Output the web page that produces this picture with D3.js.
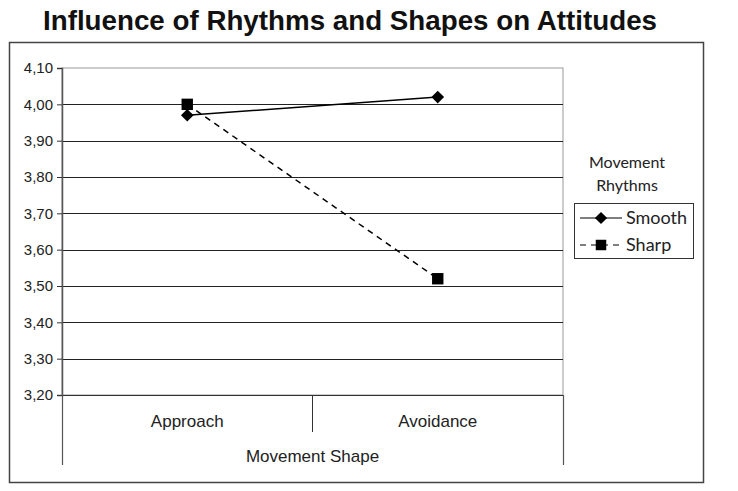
<!DOCTYPE html>
<html>
<head>
<meta charset="utf-8">
<script src="https://cdn.jsdelivr.net/npm/d3@7"></script>
<style>
  body { margin: 0; background: #fff; }
  svg { display: block; font-family: "Liberation Sans", Arial, sans-serif; }
</style>
</head>
<body>
<div id="chart"></div>
<script>
// Data
const categories = ['Approach', 'Avoidance'];
const smoothValues = [3.97, 4.02];
const sharpValues = [4.00, 3.52];
const yTicks = [3.2, 3.3, 3.4, 3.5, 3.6, 3.7, 3.8, 3.9, 4.0, 4.1];
const seriesNames = ['Smooth', 'Sharp'];

const width = 738, height = 491;
const plot = { left: 62, right: 563, top: 68, bottom: 395 };

const svg = d3.select('#chart')
    .append('svg')
    .attr('width', width)
    .attr('height', height);

// Title
svg.append('text')
    .attr('x', 350)
    .attr('y', 30)
    .attr('text-anchor', 'middle')
    .attr('font-size', 27)
    .attr('font-weight', 'bold')
    .attr('fill', '#111')
    .attr('textLength', 614)
    .attr('lengthAdjust', 'spacingAndGlyphs')
    .text('Influence of Rhythms and Shapes on Attitudes');

// Outer frame
svg.append('rect')
    .attr('x', 9.5).attr('y', 42.5)
    .attr('width', 694).attr('height', 440)
    .attr('fill', 'none')
    .attr('stroke', '#444')
    .attr('stroke-width', 1.5);

// Scales
const y = d3.scaleLinear().domain([3.2, 4.1]).range([plot.bottom, plot.top]);
const x = d3.scaleBand().domain(categories).range([plot.left, plot.right]);

// Plot area border (light)
svg.append('rect')
    .attr('x', plot.left).attr('y', plot.top)
    .attr('width', plot.right - plot.left).attr('height', plot.bottom - plot.top)
    .attr('fill', 'none')
    .attr('stroke', '#999')
    .attr('stroke-width', 1);

// Gridlines
svg.append('g')
    .selectAll('line')
    .data(yTicks.filter(t => t > 3.2 && t < 4.1))
    .enter()
    .append('line')
    .attr('x1', plot.left).attr('x2', plot.right)
    .attr('y1', d => Math.round(y(d)) + 0.5)
    .attr('y2', d => Math.round(y(d)) + 0.5)
    .attr('stroke', '#222')
    .attr('stroke-width', 1.2);

// Y axis
const yAxis = svg.append('g')
    .attr('transform', `translate(${plot.left},0)`)
    .call(d3.axisLeft(y)
        .tickValues(yTicks)
        .tickSize(5)
        .tickFormat(d => d3.format('.2f')(d).replace('.', ',')));
yAxis.attr('font-size', null).attr('font-family', null);
yAxis.select('.domain').attr('stroke', '#555').attr('stroke-width', 1.5);
yAxis.selectAll('.tick line').attr('stroke', '#333');
yAxis.selectAll('.tick text')
    .attr('font-size', 15)
    .attr('fill', '#222')
    .attr('x', -9);

// X axis (multi-level category axis)
svg.append('line')
    .attr('x1', plot.left).attr('x2', plot.right)
    .attr('y1', plot.bottom + 0.5).attr('y2', plot.bottom + 0.5)
    .attr('stroke', '#333').attr('stroke-width', 1.2);
svg.append('line')
    .attr('x1', x('Avoidance')).attr('x2', x('Avoidance'))
    .attr('y1', plot.bottom).attr('y2', 432)
    .attr('stroke', '#333');
[plot.left, plot.right].forEach(px => {
    svg.append('line')
        .attr('x1', px + 0.5).attr('x2', px + 0.5)
        .attr('y1', plot.bottom).attr('y2', 465)
        .attr('stroke', '#555').attr('stroke-width', 1.2);
});
svg.append('g')
    .selectAll('text')
    .data(categories)
    .enter()
    .append('text')
    .attr('x', d => x(d) + x.bandwidth() / 2)
    .attr('y', 427)
    .attr('text-anchor', 'middle')
    .attr('font-size', 17)
    .attr('fill', '#222')
    .text(d => d);
svg.append('text')
    .attr('x', (plot.left + plot.right) / 2)
    .attr('y', 462)
    .attr('text-anchor', 'middle')
    .attr('font-size', 17)
    .attr('fill', '#222')
    .text('Movement Shape');

// Series
const diamond = { draw(ctx, size) {
    const r = Math.sqrt(size) / 2;
    ctx.moveTo(0, -r); ctx.lineTo(r, 0); ctx.lineTo(0, r); ctx.lineTo(-r, 0); ctx.closePath();
} };
const series = [
    { name: seriesNames[0], values: smoothValues, dash: null, symbol: diamond, size: 160, legendSize: 150 },
    { name: seriesNames[1], values: sharpValues, dash: '6,5', symbol: d3.symbolSquare, size: 130, legendSize: 110 }
];
const line = d3.line()
    .x((d, i) => x(categories[i]) + x.bandwidth() / 2)
    .y(d => y(d));

series.forEach(s => {
    svg.append('path')
        .datum(s.values)
        .attr('d', line)
        .attr('fill', 'none')
        .attr('stroke', '#000')
        .attr('stroke-width', 1.5)
        .attr('stroke-dasharray', s.dash);
});
series.forEach(s => {
    svg.append('g')
        .selectAll('path')
        .data(s.values)
        .enter()
        .append('path')
        .attr('transform', (d, i) => `translate(${x(categories[i]) + x.bandwidth() / 2},${y(d)})`)
        .attr('d', d3.symbol().type(s.symbol).size(s.size))
        .attr('fill', '#000');
});

// Legend
const legendFont = 'Lato, "Open Sans", sans-serif';
svg.append('text')
    .attr('x', 627).attr('y', 168)
    .attr('text-anchor', 'middle')
    .attr('font-size', 16)
    .attr('font-family', legendFont)
    .attr('fill', '#222')
    .text('Movement');
svg.append('text')
    .attr('x', 627).attr('y', 191)
    .attr('text-anchor', 'middle')
    .attr('font-size', 16)
    .attr('font-family', legendFont)
    .attr('fill', '#222')
    .text('Rhythms');
svg.append('rect')
    .attr('x', 574.5).attr('y', 203.5)
    .attr('width', 119).attr('height', 55)
    .attr('fill', 'none')
    .attr('stroke', '#333');

series.forEach((s, i) => {
    const ly = 218 + i * 27;
    svg.append('line')
        .attr('x1', 580).attr('x2', 622)
        .attr('y1', ly).attr('y2', ly)
        .attr('stroke', '#000')
        .attr('stroke-width', 1.2)
        .attr('stroke-dasharray', s.dash);
    svg.append('path')
        .attr('transform', `translate(601,${ly})`)
        .attr('d', d3.symbol().type(s.symbol).size(s.legendSize))
        .attr('fill', '#000');
    svg.append('text')
        .attr('x', 626).attr('y', ly + 6)
        .attr('font-size', 18)
        .attr('font-family', legendFont)
        .attr('fill', '#222')
        .text(s.name);
});
</script>
</body>
</html>
